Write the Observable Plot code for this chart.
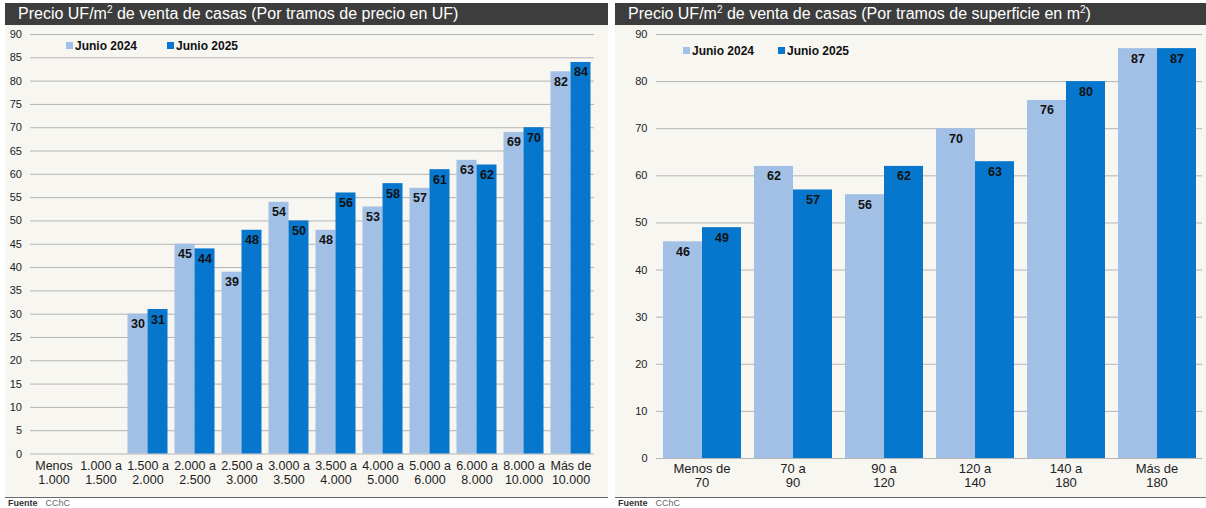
<!DOCTYPE html>
<html>
<head>
<meta charset="utf-8">
<script src="https://cdn.jsdelivr.net/npm/d3@7"></script>
<script src="https://cdn.jsdelivr.net/npm/@observablehq/plot@0.6"></script>
<style>
  html, body { margin: 0; padding: 0; background: #ffffff; }
  body { width: 1206px; height: 508px; position: relative; overflow: hidden;
         font-family: "Liberation Sans", Arial, sans-serif; }
  .panel { position: absolute; top: 3px; height: 494px; background: #f7f6f1;
           border-bottom: 1px solid #6a6a6a; }
  .head { position: absolute; left: 0; top: 0; right: 0; height: 22px; background: #3d3d3d;
          color: #ffffff; font-size: 16px; line-height: 22px; padding-left: 13px; white-space: nowrap; }
  .head sup { font-size: 10px; line-height: 0; vertical-align: 6px; }
  .chart { position: absolute; left: 0; top: 22px; }
  .legend { position: absolute; font-size: 12px; font-weight: bold; color: #111; white-space: nowrap; }
  .legend span.item { position: absolute; top: 0; }
  .legend i { display: inline-block; width: 7px; height: 7px; margin-right: 2px; vertical-align: 1px; }
  .source { position: absolute; top: 498px; font-size: 9px; color: #666; white-space: nowrap; }
  .source b { color: #333; margin-right: 8px; }
</style>
</head>
<body>
<script>
// Series and colours
const series = ["Junio 2024", "Junio 2025"];
const seriesColors = ["#a2c0e5", "#0677cc"];

// Price per m2 by price bracket (UF)
const priceBrackets = ["Menos\n1.000", "1.000 a\n1.500", "1.500 a\n2.000", "2.000 a\n2.500",
  "2.500 a\n3.000", "3.000 a\n3.500", "3.500 a\n4.000", "4.000 a\n5.000", "5.000 a\n6.000",
  "6.000 a\n8.000", "8.000 a\n10.000", "Más de\n10.000"];
const priceJun2024 = [null, null, 30, 45, 39, 54, 48, 53, 57, 63, 69, 82];
const priceJun2025 = [null, null, 31, 44, 48, 50, 56, 58, 61, 62, 70, 84];
const priceTicks = d3.range(0, 91, 5);

// Price per m2 by floor area bracket (m2)
const areaBrackets = ["Menos de\n70", "70 a\n90", "90 a\n120", "120 a\n140", "140 a\n180", "Más de\n180"];
const areaJun2024 = [46, 62, 56, 70, 76, 87];
const areaJun2025 = [49, 57, 62, 63, 80, 87];
const areaTicks = d3.range(0, 91, 10);

function rows(cats, a, b) {
  return cats.flatMap((c, i) => [
    {cat: c, serie: series[0], value: a[i]},
    {cat: c, serie: series[1], value: b[i]}
  ]);
}

function panel({left, width, title, legendPos, chart}) {
  const p = document.createElement("div");
  p.className = "panel";
  p.style.left = left + "px";
  p.style.width = width + "px";
  const h = document.createElement("div");
  h.className = "head";
  h.innerHTML = title;
  p.appendChild(h);
  const c = document.createElement("div");
  c.className = "chart";
  c.appendChild(chart);
  p.appendChild(c);
  const lg = document.createElement("div");
  lg.className = "legend";
  lg.style.left = legendPos[0] + "px";
  lg.style.top = legendPos[1] + "px";
  series.forEach((s, i) => {
    const it = document.createElement("span");
    it.className = "item";
    it.style.left = (i * legendPos[2]) + "px";
    it.innerHTML = `<i style="background:${seriesColors[i]}"></i>${s}`;
    lg.appendChild(it);
  });
  p.appendChild(lg);
  document.body.appendChild(p);
  const src = document.createElement("div");
  src.className = "source";
  src.style.left = (left + 3) + "px";
  src.innerHTML = "<b>Fuente</b>CChC";
  document.body.appendChild(src);
}

function groupedBars({cats, data, ticks, width, marginLeft, marginRight, marginBottom, tickPadding, labelSize, labelPadding}) {
  return Plot.plot({
    width, height: 470,
    marginTop: 9, marginBottom, marginLeft, marginRight,
    style: {background: "transparent", fontFamily: "'Liberation Sans', Arial, sans-serif", fontSize: "11px", color: "#222"},
    fx: {domain: cats, padding: 0, label: null},
    x: {domain: series, paddingInner: 0, paddingOuter: 0.15, axis: null},
    y: {domain: [0, 90], label: null},
    color: {domain: series, range: seriesColors},
    marks: [
      Plot.gridY(ticks, {stroke: "#b4b4b4", strokeOpacity: 1, strokeWidth: 1}),
      Plot.axisY(ticks, {tickSize: 0, tickPadding, label: null, fill: "#222"}),
      Plot.axisFx({anchor: "bottom", tickSize: 0, tickPadding: labelPadding, label: null,
                   fontSize: labelSize, lineHeight: 1.12, fill: "#222"}),
      Plot.barY(data, {fx: "cat", x: "serie", y: "value", fill: "serie"}),
      Plot.text(data.filter(d => d.value != null), {
        fx: "cat", x: "serie", y: "value", text: d => d3.format("d")(d.value),
        dy: 10, fill: "#111", fontWeight: "bold", fontSize: 12.5
      })
    ]
  });
}

panel({
  left: 5, width: 603,
  title: "Precio UF/m<sup>2</sup> de venta de casas (Por tramos de precio en UF)",
  legendPos: [61, 36, 101],
  chart: groupedBars({
    cats: priceBrackets, data: rows(priceBrackets, priceJun2024, priceJun2025), ticks: priceTicks,
    width: 603, marginLeft: 23.5, marginRight: 12, marginBottom: 41.5, tickPadding: 8.5,
    labelSize: 12.5, labelPadding: 6
  })
});

panel({
  left: 615, width: 591,
  title: "Precio UF/m<sup>2</sup> de venta de casas (Por tramos de superficie en m<sup>2</sup>)",
  legendPos: [68, 41, 95],
  chart: groupedBars({
    cats: areaBrackets, data: rows(areaBrackets, areaJun2024, areaJun2025), ticks: areaTicks,
    width: 591, marginLeft: 40, marginRight: 4, marginBottom: 37, tickPadding: 9,
    labelSize: 13, labelPadding: 4
  })
});
</script>
</body>
</html>
